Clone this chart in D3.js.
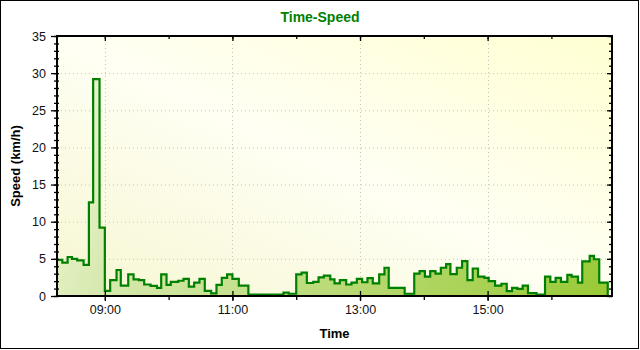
<!DOCTYPE html>
<html>
<head>
<meta charset="utf-8">
<script src="https://cdn.jsdelivr.net/npm/d3@7"></script>
<style>
  body { margin: 0; background: #fff; }
  svg { display: block; font-family: "Liberation Sans", Arial, sans-serif; }
  .tick text { font-size: 12.5px; fill: #111; }
</style>
</head>
<body>
<div id="chart"></div>
<script>
// step times (start of each reading) and speeds
var times = ["08:15","08:20","08:25","08:29","08:34","08:40","08:45","08:49","08:55","09:00",
  "09:05","09:11","09:15","09:22","09:27","09:32","09:37","09:43","09:49","09:53",
  "09:58","10:02","10:09","10:14","10:19","10:24","10:29","10:34","10:40","10:45",
  "10:50","10:55","11:00","11:06","11:15","11:48","11:53","12:00","12:05","12:10",
  "12:16","12:21","12:26","12:32","12:36","12:41","12:47","12:52","12:57","13:02",
  "13:07","13:12","13:18","13:23","13:27","13:42","13:51","13:56","14:01","14:06",
  "14:11","14:16","14:21","14:25","14:31","14:36","14:41","14:46","14:51","14:57",
  "15:01","15:07","15:13","15:18","15:23","15:28","15:33","15:38","15:46","15:54",
  "15:59","16:04","16:09","16:15","16:19","16:25","16:29","16:36","16:40","16:45","16:53"];
var speeds = [4.85,4.5,5.25,5.0,4.8,4.2,12.6,29.2,9.2,0.7,
  2.15,3.5,1.4,2.9,2.25,2.15,1.55,1.35,1.1,2.9,
  1.5,1.9,2.05,2.3,1.25,1.8,2.3,0.7,0.35,1.5,
  2.45,2.9,2.3,1.4,0.2,0.45,0.3,2.9,3.15,1.75,
  1.9,2.5,2.75,2.25,1.7,2.15,1.55,1.8,2.3,1.85,
  2.4,1.7,2.9,3.8,1.1,0.3,3.0,3.35,2.6,3.35,
  3.0,3.8,4.3,2.95,3.8,4.7,2.15,3.7,2.6,2.45,
  2.0,1.4,1.65,0.65,1.1,0.95,1.4,0.4,0.2,2.6,
  1.9,2.45,1.9,2.85,2.6,1.8,4.65,5.4,4.95,1.8,0];

var timeDomain = ["08:15", "16:57"];
var xTickLabels = ["09:00", "11:00", "13:00", "15:00"];
var yTicks = [0, 5, 10, 15, 20, 25, 30, 35];

var svgWidth = 640, svgHeight = 350;
var margins = { top: 36, bottom: 54, left: 57, right: 28 };
var width = svgWidth - margins.left - margins.right;
var height = svgHeight - margins.top - margins.bottom;

var parseTime = d3.timeParse("%H:%M");
var data = times.map(function(t, i) { return { time: parseTime(t), speed: speeds[i] }; });

var svg = d3.select("#chart").append("svg").attr("width", svgWidth).attr("height", svgHeight);

var defs = svg.append("defs");
var bg = defs.append("linearGradient").attr("id", "bgGrad")
  .attr("x1", "0%").attr("y1", "100%").attr("x2", "100%").attr("y2", "0%");
bg.append("stop").attr("offset", "0%").attr("stop-color", "#f6f6d2");
bg.append("stop").attr("offset", "50%").attr("stop-color", "#fffff4");
bg.append("stop").attr("offset", "100%").attr("stop-color", "#ffffd2");

var fillGrad = defs.append("linearGradient").attr("id", "fillGrad")
  .attr("gradientUnits", "userSpaceOnUse")
  .attr("x1", 0).attr("y1", 40).attr("x2", width).attr("y2", height);
fillGrad.append("stop").attr("offset", "0%").attr("stop-color", "#f4f7dc");
fillGrad.append("stop").attr("offset", "20%").attr("stop-color", "#d6e9ae");
fillGrad.append("stop").attr("offset", "100%").attr("stop-color", "#98c934");

// outer border
svg.append("rect").attr("x", 0.5).attr("y", 0.5).attr("width", 638).attr("height", 348)
  .attr("fill", "#fff").attr("stroke", "#000").attr("stroke-width", 1);

// title
svg.append("text").attr("x", 320).attr("y", 22).attr("text-anchor", "middle")
  .attr("font-size", "14px").attr("font-weight", "bold").attr("fill", "#008000")
  .text("Time-Speed");

var chartGroup = svg.append("g").attr("transform", `translate(${margins.left},${margins.top})`);

var xScale = d3.scaleTime().domain(timeDomain.map(parseTime)).range([0, width]);
var yScale = d3.scaleLinear().domain([0, 35]).range([height, 0]);

chartGroup.append("rect").attr("width", width).attr("height", height).attr("fill", "url(#bgGrad)");

// dotted grid
chartGroup.append("g").selectAll("line").data(yTicks.slice(1, -1)).enter().append("line")
  .attr("x1", 0).attr("x2", width)
  .attr("y1", d => yScale(d) + 0.5).attr("y2", d => yScale(d) + 0.5)
  .attr("stroke", "#c4c4c4").attr("stroke-dasharray", "1,3");
chartGroup.append("g").selectAll("line").data(xTickLabels.map(parseTime)).enter().append("line")
  .attr("x1", d => Math.round(xScale(d)) + 0.5).attr("x2", d => Math.round(xScale(d)) + 0.5)
  .attr("y1", 0).attr("y2", height)
  .attr("stroke", "#c4c4c4").attr("stroke-dasharray", "1,3");

// area + step line
var area = d3.area().curve(d3.curveStepAfter)
  .x(d => xScale(d.time)).y0(height).y1(d => yScale(d.speed));
var line = d3.line().curve(d3.curveStepAfter)
  .x(d => xScale(d.time)).y(d => yScale(d.speed));

chartGroup.append("path").datum(data).attr("d", area).attr("fill", "url(#fillGrad)");
chartGroup.append("path").datum(data).attr("d", line)
  .attr("fill", "none").attr("stroke", "#008000").attr("stroke-width", 2.2)
  .attr("stroke-linejoin", "miter");

// frame
chartGroup.append("rect").attr("width", width).attr("height", height)
  .attr("fill", "none").attr("stroke", "#000").attr("stroke-width", 2);

// left axis
var minorY = d3.range(0, 36);
chartGroup.append("g").attr("transform", "translate(2,0)")
  .call(d3.axisLeft(yScale).tickValues(minorY).tickSize(5).tickFormat(""))
  .call(g => g.select(".domain").remove());
chartGroup.append("g")
  .call(d3.axisLeft(yScale).tickValues(yTicks).tickSize(6).tickPadding(5))
  .call(g => g.select(".domain").remove());
// right axis (inner ticks)
chartGroup.append("g").attr("transform", `translate(${width},0)`)
  .call(d3.axisLeft(yScale).tickValues(minorY).tickSize(3).tickFormat(""))
  .call(g => g.select(".domain").remove());
chartGroup.append("g").attr("transform", `translate(${width},0)`)
  .call(d3.axisLeft(yScale).tickValues(yTicks).tickSize(5).tickFormat(""))
  .call(g => g.select(".domain").remove());

// bottom axis
var hours = d3.timeHour.every(1).range(xScale.domain()[0], xScale.domain()[1]);
chartGroup.append("g").attr("transform", `translate(0,${height})`)
  .call(d3.axisBottom(xScale).tickValues(hours).tickSize(4).tickFormat(""))
  .call(g => g.select(".domain").remove());
chartGroup.append("g").attr("transform", `translate(0,${height - 5})`)
  .call(d3.axisBottom(xScale).tickValues(xTickLabels.map(parseTime)).tickSize(10)
    .tickPadding(4).tickFormat(d3.timeFormat("%H:%M")))
  .call(g => g.select(".domain").remove());
// top axis (inner ticks)
chartGroup.append("g")
  .call(d3.axisTop(xScale).tickValues(hours).tickSize(-3).tickFormat(""))
  .call(g => g.select(".domain").remove());
chartGroup.append("g")
  .call(d3.axisTop(xScale).tickValues(xTickLabels.map(parseTime)).tickSize(-5).tickFormat(""))
  .call(g => g.select(".domain").remove());

chartGroup.selectAll(".tick line").attr("stroke", "#000").attr("stroke-width", 1.3);

// axis titles
chartGroup.append("text").attr("x", width / 2).attr("y", height + 42)
  .attr("text-anchor", "middle").attr("font-size", "13px").attr("font-weight", "bold")
  .text("Time");
chartGroup.append("text").attr("transform", "rotate(-90)")
  .attr("x", -height / 2).attr("y", -37)
  .attr("text-anchor", "middle").attr("font-size", "13px").attr("font-weight", "bold")
  .text("Speed (km/h)");
</script>
</body>
</html>
